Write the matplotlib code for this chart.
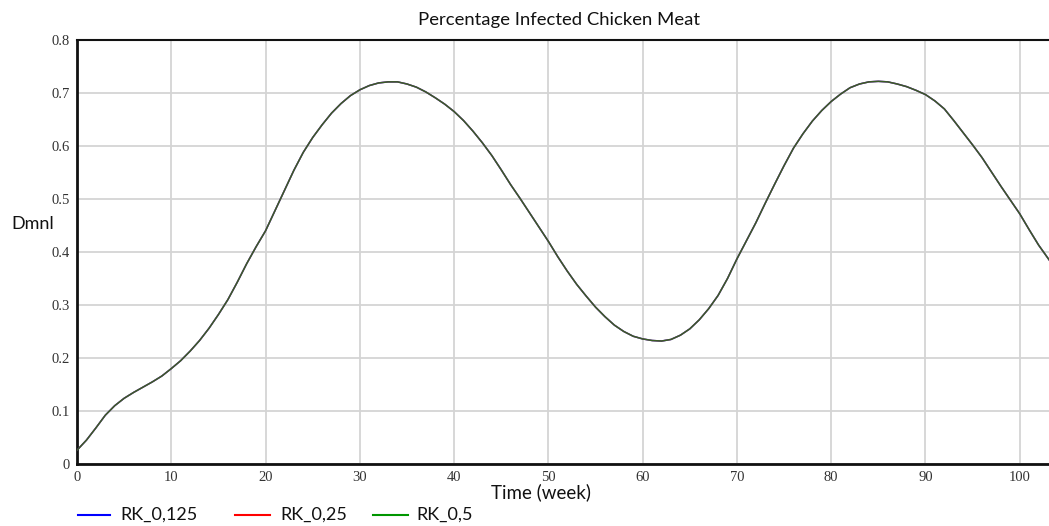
import matplotlib

matplotlib.use("Agg")
import matplotlib.pyplot as plt
from matplotlib.lines import Line2D

# weekly share of infected chicken meat (the three RK runs coincide)
weeks = list(range(0, 105))
infected = [
  0.026, 0.045, 0.068, 0.092, 0.110, 0.124, 0.135, 0.145, 0.155, 0.166,
  0.180, 0.195, 0.213, 0.233, 0.256, 0.282, 0.310, 0.343, 0.378, 0.410,
  0.440, 0.478, 0.516, 0.554, 0.588, 0.616, 0.640, 0.662, 0.680, 0.695,
  0.706, 0.714, 0.719, 0.721, 0.721, 0.717, 0.711, 0.702, 0.691, 0.679,
  0.665, 0.648, 0.628, 0.606, 0.582, 0.555, 0.527, 0.501, 0.474, 0.447,
  0.420, 0.391, 0.364, 0.339, 0.317, 0.296, 0.278, 0.262, 0.250, 0.241,
  0.236, 0.233, 0.232, 0.235, 0.243, 0.255, 0.272, 0.293, 0.318, 0.350,
  0.387, 0.421, 0.455, 0.492, 0.528, 0.563, 0.596, 0.623, 0.647, 0.667,
  0.684, 0.698, 0.710, 0.717, 0.721, 0.722, 0.721, 0.717, 0.712, 0.705,
  0.697, 0.685, 0.670, 0.648, 0.625, 0.602, 0.578, 0.551, 0.524, 0.498,
  0.472, 0.442, 0.413, 0.388, 0.363,
]
run_labels = ["RK_0,125", "RK_0,25", "RK_0,5"]
run_colors = ["#0000ff", "#ff0000", "#009600"]
run_alphas = [1.0, 0.6, 0.62]

x_ticks = list(range(0, 101, 10))
y_ticks = [0, 0.1, 0.2, 0.3, 0.4, 0.5, 0.6, 0.7, 0.8]
y_tick_labels = ["0", "0.1", "0.2", "0.3", "0.4", "0.5", "0.6", "0.7", "0.8"]

SANS = ["Lato", "DejaVu Sans"]
SERIF = ["Liberation Serif", "DejaVu Serif"]
W, H = 1049, 526

fig = plt.figure(figsize=(W / 100, H / 100), dpi=100)
ax = fig.add_axes([77 / W, 1 - 464 / H, 1 - 77 / W, 424 / H])

for label, color, alpha in zip(run_labels, run_colors, run_alphas):
  ax.plot(weeks, infected, color=color, alpha=alpha, linewidth=1.1, label=label, zorder=3)

ax.set_xlim(0, 103.1)
ax.set_ylim(0, 0.8)
ax.set_xticks(x_ticks)
ax.set_yticks(y_ticks)
ax.set_yticklabels(y_tick_labels)
ax.tick_params(length=0, pad=5, labelsize=10.5, colors="#333333")
for tick in ax.get_xticklabels() + ax.get_yticklabels():
  tick.set_fontfamily(SERIF)

ax.grid(True, color="#d4d4d4", linewidth=1.3)
ax.set_axisbelow(True)
for side in ("left", "bottom"):
  ax.spines[side].set_linewidth(2.0)
  ax.spines[side].set_color("#111111")
ax.spines["top"].set_linewidth(1.5)
ax.spines["top"].set_color("#111111")
ax.spines["right"].set_visible(False)

fig.text(559 / W, 1 - 20 / H, "Percentage Infected Chicken Meat",
         ha="center", va="center", fontsize=13.3, family=SANS, color="#111111")
fig.text(11 / W, 1 - 224 / H, "Dmnl", ha="left", va="center",
         fontsize=13, family=SANS, color="#111111")
fig.text(541 / W, 1 - 492 / H, "Time (week)", ha="center", va="center",
         fontsize=13.5, family=SANS, color="#111111")

# legend row below the axis title
legend_line_x = [(78, 110), (235, 270), (373, 408)]
legend_text_x = [120, 280, 416]
legend_y = 1 - 515 / H
for (x0, x1), tx, label, color in zip(legend_line_x, legend_text_x, run_labels, run_colors):
  fig.add_artist(Line2D([x0 / W, x1 / W], [legend_y, legend_y], color=color,
                        linewidth=1.5, transform=fig.transFigure))
  fig.text(tx / W, legend_y, label, ha="left", va="center",
           fontsize=13, family=SANS, color="#111111")

fig.savefig("out.png", dpi=100)
